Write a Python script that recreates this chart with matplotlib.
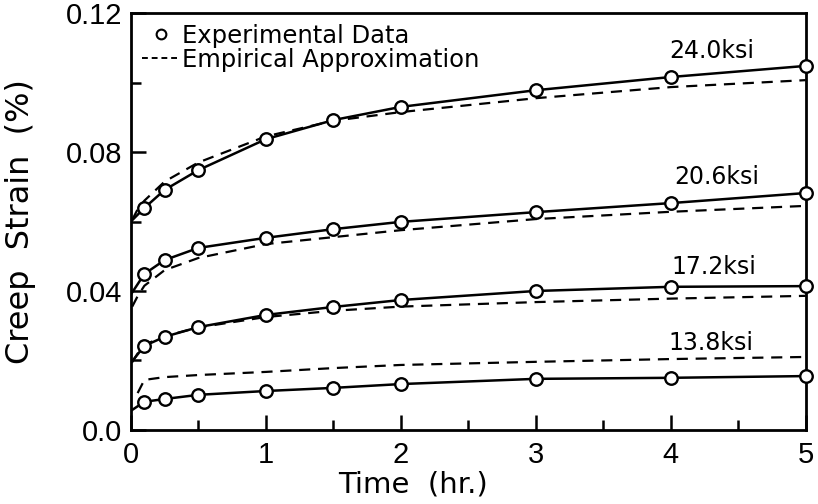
import matplotlib.pyplot as plt
from matplotlib.lines import Line2D

plt.rcParams['font.family'] = ['Liberation Sans', 'DejaVu Sans']

# measured creep strain (%) at these times (hr)
t_exp = [0.1, 0.25, 0.5, 1.0, 1.5, 2.0, 3.0, 4.0, 5.0]
exp_240 = [0.0639, 0.0691, 0.0748, 0.0837, 0.0892, 0.0930, 0.0978, 0.1016, 0.1048]
exp_206 = [0.0449, 0.0489, 0.0524, 0.0553, 0.0578, 0.0599, 0.0627, 0.0653, 0.0682]
exp_172 = [0.0242, 0.0268, 0.0296, 0.0331, 0.0354, 0.0374, 0.0400, 0.0412, 0.0414]
exp_138 = [0.0081, 0.0089, 0.0101, 0.0112, 0.0121, 0.0132, 0.0147, 0.0150, 0.0155]
# starting values of the solid curves at t = 0
start_240 = 0.0600
start_206 = 0.0390
start_172 = 0.0193
start_138 = 0.0055

# empirical approximation (dashed)
t_emp = [0.01, 0.05, 0.1, 0.25, 0.5, 1.0, 1.5, 2.0, 3.0, 4.0, 5.0]
emp_240 = [0.0605, 0.0635, 0.0660, 0.0715, 0.0770, 0.0845, 0.0890, 0.0915, 0.0955, 0.0987, 0.1007]
emp_206 = [0.0355, 0.0385, 0.0415, 0.0460, 0.0495, 0.0535, 0.0555, 0.0575, 0.0607, 0.0628, 0.0645]
emp_172 = [0.0195, 0.0220, 0.0245, 0.0270, 0.0295, 0.0325, 0.0343, 0.0355, 0.0368, 0.0378, 0.0386]
t_emp_138 = [0.05, 0.1, 0.25, 0.5, 1.0, 1.5, 2.0, 3.0, 4.0, 5.0]
emp_138 = [0.0106, 0.0144, 0.0152, 0.0158, 0.0167, 0.0178, 0.0187, 0.0196, 0.0204, 0.0210]

stress_labels = ['24.0ksi', '20.6ksi', '17.2ksi', '13.8ksi']
label_x = [4.30, 4.34, 4.32, 4.30]
label_y = [0.1090, 0.0728, 0.0469, 0.0250]

fig = plt.figure(figsize=(8.18, 5.04), dpi=100)
ax = fig.add_axes([0.160, 0.147, 0.825, 0.827])

for start, ys in [(start_240, exp_240), (start_206, exp_206), (start_172, exp_172), (start_138, exp_138)]:
    ax.plot([0] + t_exp, [start] + ys, color='black', lw=1.8, zorder=2)
    ax.plot(t_exp, ys, 'o', ms=9, mfc='white', mec='black', mew=1.7, zorder=3, clip_on=False)

for tt, ys in [(t_emp, emp_240), (t_emp, emp_206), (t_emp, emp_172), (t_emp_138, emp_138)]:
    ax.plot(tt, ys, color='black', lw=1.6, ls=(0, (5, 3.5)), zorder=1)

for s, x, y in zip(stress_labels, label_x, label_y):
    ax.text(x, y, s, fontsize=17, family='DejaVu Sans', ha='center', va='center')

handles = [Line2D([], [], ls='none', marker='o', ms=7, mfc='white', mec='black', mew=1.5),
           Line2D([], [], color='black', lw=1.4, ls=(0, (3, 2)))]
ax.legend(handles, ['Experimental Data', 'Empirical Approximation'], loc='upper left',
          bbox_to_anchor=(0.016, 0.975), prop={'family': 'DejaVu Sans', 'size': 17.5},
          frameon=False, handlelength=1.55, handletextpad=0.1,
          borderaxespad=0.0, labelspacing=0.0, borderpad=0.0)

ax.set_xlim(0, 5)
ax.set_ylim(0, 0.12)
ax.set_xticks([0, 1, 2, 3, 4, 5])
ax.set_xticks([0.5, 1.5, 2.5, 3.5, 4.5], minor=True)
ax.set_yticks([0, 0.04, 0.08, 0.12])
ax.set_yticklabels(['0.0', '0.04', '0.08', '0.12'])
ax.set_yticks([0.02, 0.06, 0.10], minor=True)
ax.tick_params(which='major', direction='in', length=11, width=1.8, labelsize=21)
ax.tick_params(axis='x', which='major', pad=8)
ax.tick_params(axis='y', which='major', pad=6)
ax.tick_params(which='minor', direction='in', length=7, width=1.8)
for sp in ax.spines.values():
    sp.set_linewidth(2)

ax.set_xlabel('Time  (hr.)', fontsize=21, family='DejaVu Sans')
ax.xaxis.set_label_coords(0.418, -0.098)
ax.set_ylabel('Creep  Strain  (%)', fontsize=23, family='DejaVu Sans')
ax.yaxis.set_label_coords(-0.141, 0.5)

fig.savefig('out.png', dpi=100)
